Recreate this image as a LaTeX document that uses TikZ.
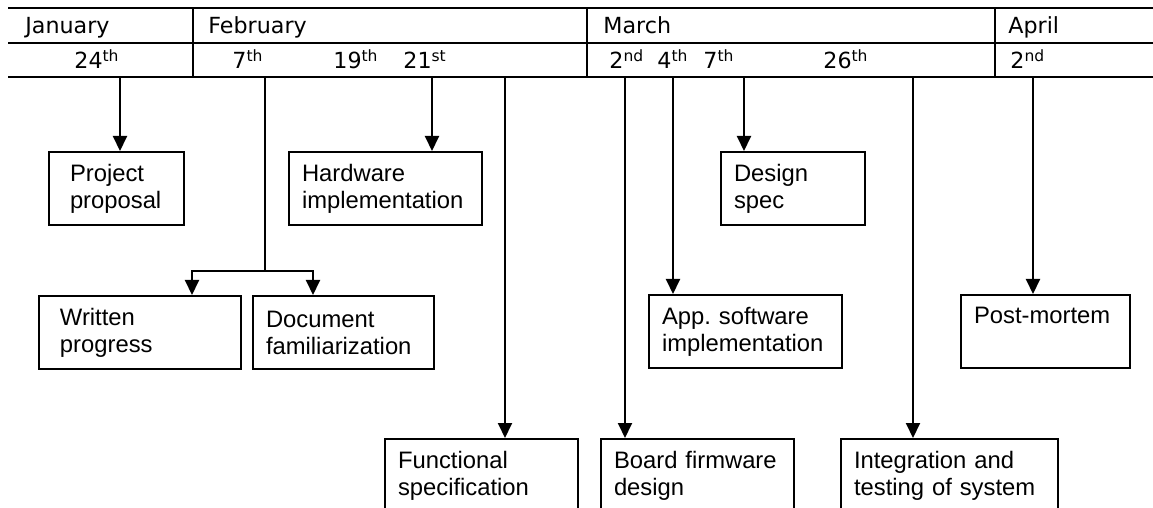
\documentclass[tikz,border=0pt]{standalone}
\usepackage{fontspec}
\setmainfont{Liberation Sans}
\newfontfamily\datefont{DejaVu Sans}
\usetikzlibrary{arrows.meta}

\newcommand{\dd}[2]{#1\textsuperscript{#2}}

\tikzset{
	rule/.style={line width=1.2pt},
	link/.style={line width=1pt},
	arr/.style={link,-{Triangle[width=7pt,length=7.5pt]}},
	cal/.style={anchor=base west,inner sep=0pt,font=\datefont\fontsize{11.1}{13}\selectfont},
	task/.style={draw,line width=1pt,anchor=north west,minimum height=36.5pt,
		inner xsep=6.5pt,inner ysep=0pt,text width=83.5pt,align=left,
		font=\fontsize{11.9}{13.5}\selectfont\frenchspacing},
}

\begin{document}
\begin{tikzpicture}[x=0.5pt,y=-0.5pt]
	\useasboundingbox (0,0) rectangle (1153,508);
	\clip (0,0) rectangle (1153,508);

	% calendar strip
	\foreach \y in {8,43,77} {
		\draw[rule] (8,\y) -- (1160,\y);
	}
	\foreach \x in {193,587,995} {
		\draw[rule] (\x,8) -- (\x,77);
	}
	\node[cal] (jan) at (25,34) {January};
	\node[cal] (feb) at (208,34) {February};
	\node[cal] (mar) at (603,34) {March};
	\node[cal] (apr) at (1008,34) {April};

	\node[cal] (jan24) at (74,69) {\dd{24}{th}};
	\node[cal] (feb7) at (232,69) {\dd{7}{th}};
	\node[cal] (feb19) at (333,69) {\dd{19}{th}};
	\node[cal] (feb21) at (403,69) {\dd{21}{st}};
	\node[cal] (mar2) at (609,69) {\dd{2}{nd}};
	\node[cal] (mar4) at (657,69) {\dd{4}{th}};
	\node[cal] (mar7) at (703,69) {\dd{7}{th}};
	\node[cal] (mar26) at (823,69) {\dd{26}{th}};
	\node[cal] (apr2) at (1010,69) {\dd{2}{nd}};

	% where each milestone leaves the strip
	\coordinate (s-prop) at (120,77);
	\coordinate (s-doc) at (265,77);
	\coordinate (fork) at (265,271);
	\coordinate (s-hw) at (432,77);
	\coordinate (s-func) at (505,77);
	\coordinate (s-board) at (625,77);
	\coordinate (s-app) at (673,77);
	\coordinate (s-spec) at (744,77);
	\coordinate (s-integ) at (913,77);
	\coordinate (s-post) at (1033,77);

	% tasks
	\node[task,inner xsep=10.5pt,text width=46.5pt] (prop) at (48,151) {Project\\proposal};
	\node[task] (hw) at (288,151) {Hardware\\implementation};
	\node[task,text width=59pt] (spec) at (720,151) {Design\\spec};
	\node[task,inner xsep=10.5pt,text width=80pt] (writ) at (38,295) {Written\\progress};
	\node[task,text width=77.5pt] (doc) at (252,295) {Document\\familiarization};
	\node[task] (app) at (648,294) {App. software\\implementation};
	\node[task,text width=71.5pt] (post) at (960,294) {Post-mortem\\\phantom{p}};
	\node[task] (func) at (384,438) {Functional\\specification};
	\node[task] (board) at (600,438) {Board firmware\\design};
	\node[task,text width=95.5pt] (integ) at (840,438) {Integration and\\testing of system};

	% arrows
	\draw[arr] (s-prop) -- (s-prop |- prop.north);
	\draw[link] (s-doc) -- (fork);
	\draw[arr] (fork) -| (192,0 |- writ.north);
	\draw[arr] (fork) -| (313,0 |- doc.north);
	\draw[arr] (s-hw) -- (s-hw |- hw.north);
	\draw[arr] (s-func) -- (s-func |- func.north);
	\draw[arr] (s-board) -- (s-board |- board.north);
	\draw[arr] (s-app) -- (s-app |- app.north);
	\draw[arr] (s-spec) -- (s-spec |- spec.north);
	\draw[arr] (s-integ) -- (s-integ |- integ.north);
	\draw[arr] (s-post) -- (s-post |- post.north);
\end{tikzpicture}
\end{document}
